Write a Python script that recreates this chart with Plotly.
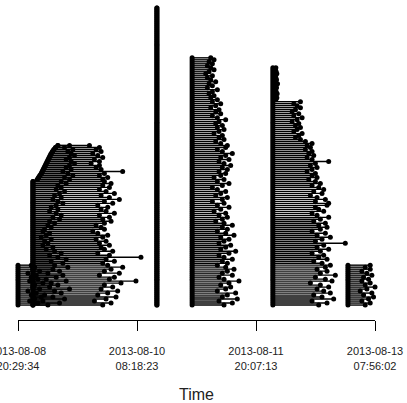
import pandas as pd
import plotly.graph_objects as go

# ---- data (hours after the first timestamp) ----
t0 = pd.Timestamp("2013-08-08 20:29:34")

tick_vals = ["2013-08-08 20:29:34", "2013-08-10 08:18:23",
             "2013-08-11 20:07:13", "2013-08-13 07:56:02"]
tick_text = ["2013-08-08<br>20:29:34", "2013-08-10<br>08:18:23",
             "2013-08-11<br>20:07:13", "2013-08-13<br>07:56:02"]

# cluster 1, part A (rows 0-20, start at first timestamp)
c1a_start = 0.0
c1a_end = [4.5, 6.0, 3.5, 5.0, 7.0, 4.0, 5.5, 3.0, 6.5, 4.5, 5.0, 7.5, 3.5, 6.0,
           4.0, 5.5, 3.0, 6.5, 4.5, 5.0, 4.0]
# cluster 1, part B (rows 0-80)
c1b_start = [4.5] * 63 + [5.8, 6.2, 6.6, 7.0, 7.3, 7.6, 7.9, 8.2, 8.5, 8.8, 9.1,
                          9.4, 9.7, 10.0, 10.4, 10.8, 11.3, 12.0]
c1b_end = [25.5, 28.0, 23.0, 26.5, 29.5, 24.0,
           27.0, 30.0, 25.0, 28.5, 26.0, 31.0, 35.5,
           27.5, 29.0, 24.5, 30.5, 26.0, 28.0, 31.5, 27.0,
           25.5, 29.0, 26.5, 37.0, 27.5, 24.0, 28.5, 26.0, 25.0, 27.5,
           24.5, 26.5, 23.5, 25.5, 27.0, 24.0, 22.5, 26.0, 25.0, 23.5,
           26.0, 28.0, 25.5, 27.5, 24.5, 29.0, 26.5, 25.0, 27.0, 24.0,
           28.5, 26.0, 30.5, 27.5, 25.0, 29.0, 26.5, 24.5, 27.5, 25.5, 28.0, 26.0,
           25.5, 27.0, 24.5, 26.0, 31.5, 25.0, 23.5, 24.5,
           22.0, 24.5, 23.0, 25.5, 24.0, 22.5, 25.0, 23.5, 24.5, 21.5]
# cluster 1, shorter sessions inside part B (rows 0-80)
c1_mid = [9.0, 12.5, 7.5, 14.0, 10.5, 8.0, 13.0, 11.0, 15.5, 9.5, 12.0, 10.0, 14.5,
          8.5, 11.5, 13.5, 9.0, 12.5, 10.5, 15.0, 11.0,
          13.5, 10.0, 14.5, 12.0, 9.5, 13.0, 11.0, 8.5, 10.5, 7.5, 9.0, 8.0, 10.0,
          7.0, 8.5, 9.5, 7.5, 8.0, 10.0, 9.0,
          11.0, 9.5, 12.5, 10.5, 13.0, 11.5, 9.5, 12.0, 10.0, 11.5, 13.5, 12.0, 10.5,
          13.0, 11.0, 12.5, 14.0, 11.5, 13.0, 12.0,
          14.5, 13.0, 15.5, 14.0, 16.5, 15.0, 13.5, 16.0, 14.5, 15.5, 17.0, 16.0,
          14.5, 15.5, 17.0, 16.0, 15.0, 16.5, 14.0, 15.5]

# cluster 2 (rows 0-149, instantaneous)
c2_time = 41.8
c2_rows = 150

# cluster 3 (rows 0-124)
c3_start = 52.4
c3_end = [62.0, 64.5, 60.5, 66.0, 61.5, 63.0, 65.5, 60.0, 62.5, 64.0,
          61.0, 63.5, 66.5, 62.0, 60.5, 64.5, 61.5, 63.0, 65.0, 62.5,
          60.0, 63.0, 61.5, 64.5, 62.0, 60.5, 63.5, 65.5, 61.0, 62.5,
          64.0, 60.5, 62.0, 63.5, 61.0, 65.0, 62.5, 60.0, 63.0, 61.5,
          64.5, 62.0, 59.5, 61.5, 63.0, 60.5, 62.5, 59.0, 61.0, 63.5,
          60.0, 62.0, 58.5, 61.5, 63.0, 59.5, 61.0, 62.5, 60.0, 58.5,
          61.5, 63.5, 60.0, 62.0, 59.0, 61.0, 62.5, 60.5, 63.0, 61.5,
          64.0, 62.0, 60.5, 63.5, 61.0, 62.5, 64.5, 61.5, 60.0, 62.5,
          63.0, 61.0, 59.5, 62.0, 60.5, 61.5, 59.0, 60.5, 62.0, 60.0,
          61.5, 59.5, 60.5, 62.5, 60.0, 58.5, 61.0, 59.5, 60.5, 58.0,
          59.5, 61.0, 58.5, 60.0, 58.0, 59.0, 57.5, 58.5, 60.0, 57.0,
          58.5, 57.5, 59.5, 58.0, 57.0, 58.5, 56.5, 57.5, 59.0, 58.0,
          57.0, 58.5, 57.5, 59.0, 58.0]

# cluster 4 (rows 0-119)
c4_start = 76.7
c4_end = [90.5, 93.0, 88.5, 95.0, 91.5, 89.0, 94.0, 92.0, 90.0, 93.5,
          91.0, 88.0, 94.5, 92.5, 89.5, 95.5, 91.0, 93.0, 90.0, 92.5,
          94.0, 91.5, 89.0, 93.0, 90.5, 92.0, 88.5, 91.0, 93.5, 90.0,
          92.0, 98.5, 89.5, 91.5, 94.0, 90.0, 92.5, 88.5, 91.0, 93.0,
          90.5, 92.5, 89.0, 91.0, 93.5, 90.0, 88.5, 92.0, 90.5, 89.5,
          93.0, 93.5, 89.5, 92.5, 90.0, 88.0, 91.5, 89.0, 92.0, 90.5,
          88.5, 91.0, 89.5, 87.5, 90.0, 88.5, 89.5, 87.0, 88.5, 90.0,
          88.0, 89.5, 93.5, 88.5, 87.0, 89.0, 87.5, 88.5, 86.5, 88.0,
          87.0, 88.5, 86.5, 85.0, 83.5, 84.5, 85.5, 83.0, 84.0, 85.0,
          83.5, 84.5, 82.5, 84.0, 85.5, 83.0, 84.5, 82.5, 83.5, 85.0, 84.0, 83.0, 85.0,
          77.6, 77.9, 77.5, 78.0, 77.7, 77.4, 77.8, 77.6, 78.1, 77.5, 77.8, 77.6,
          77.4, 77.9, 77.7, 77.5, 77.6]

# cluster 5 (rows 0-20)
c5_start = 99.3
c5_end = [104.5, 106.0, 103.5, 105.5, 107.0, 104.0, 106.5, 103.0, 105.0, 107.44,
          104.5, 106.0, 103.5, 105.5, 104.0, 106.5, 105.0, 103.5, 106.0, 104.5, 106.0]

# ---- assemble segments ----
segments = []  # (row, start_h, end_h)
for r, e in enumerate(c1a_end):
    segments.append((r, c1a_start, e))
for r, (s, e) in enumerate(zip(c1b_start, c1b_end)):
    segments.append((r, s, e))
for r, (s, m) in enumerate(zip(c1b_start, c1_mid)):
    segments.append((r, s, m))
for r in range(c2_rows):
    segments.append((r, c2_time, c2_time))
for r, e in enumerate(c3_end):
    segments.append((r, c3_start, e))
for r, e in enumerate(c4_end):
    segments.append((r, c4_start, e))
for r, e in enumerate(c5_end):
    segments.append((r, c5_start, e))


def to_t(h):
    return t0 + pd.Timedelta(hours=h)


lx, ly, px, py = [], [], [], []
for r, s, e in segments:
    ts, te = to_t(s), to_t(e)
    lx += [ts, te, None]
    ly += [r, r, None]
    px += [ts, te]
    py += [r, r]

fig = go.Figure()
fig.add_trace(go.Scatter(x=lx, y=ly, mode="lines",
                         line=dict(color="black", width=1.4),
                         hoverinfo="skip", showlegend=False, cliponaxis=False))
fig.add_trace(go.Scatter(x=px, y=py, mode="markers",
                         marker=dict(color="black", size=5, line=dict(width=0)),
                         hoverinfo="skip", showlegend=False, cliponaxis=False))

fig.update_layout(
    width=407, height=403,
    margin=dict(l=18, r=32, t=5, b=83),
    paper_bgcolor="white", plot_bgcolor="white",
    font=dict(family="Liberation Sans, Arial, sans-serif", color="#222222"),
    xaxis=dict(type="date", range=[tick_vals[0], tick_vals[-1]],
               tickvals=tick_vals, ticktext=tick_text,
               showline=True, linecolor="black", linewidth=1,
               ticks="outside", ticklen=10, tickcolor="black", tickwidth=1,
               showgrid=False, zeroline=False, automargin=False,
               tickfont=dict(size=11), ticklabelstandoff=11,
               ticklabeloverflow="allow",
               title=dict(text="Time", font=dict(size=16), standoff=21)),
    yaxis=dict(visible=False, range=[-7.5, 150.5], fixedrange=True),
)

fig.write_html("out.html")
